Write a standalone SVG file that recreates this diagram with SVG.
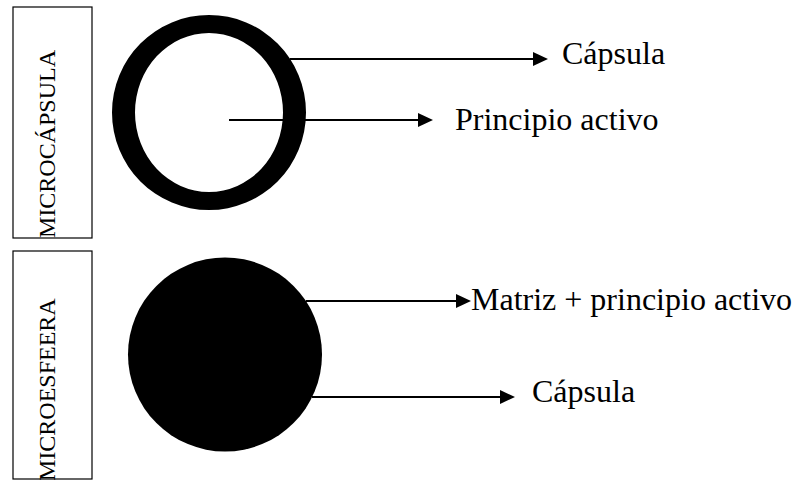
<svg xmlns="http://www.w3.org/2000/svg" width="796" height="480" viewBox="0 0 796 480">
<style>
.box{fill:none;stroke:#000;stroke-width:1.2}
.lbl{font-family:"Liberation Serif","Times New Roman",serif;font-size:32px;fill:#000}
.vlbl{font-family:"Liberation Serif","Times New Roman",serif;font-size:24px;fill:#000}
.conn{stroke:#000;stroke-width:2;fill:none}
</style>
<defs>
<marker id="ah" markerUnits="userSpaceOnUse" markerWidth="16" markerHeight="14" refX="11" refY="7" orient="auto">
<path d="M0,0 L15,7 L0,14 Z" fill="#000"/>
</marker>
<clipPath id="clipBot"><rect x="13" y="251" width="79" height="229"/></clipPath>
</defs>
<rect width="796" height="480" fill="#fff"/>
<g id="box-microcapsula">
<rect class="box" x="13" y="7" width="79" height="231"/>
<text class="vlbl" transform="translate(55,238) rotate(-90)">MICROCÁPSULA</text>
</g>
<g id="box-microesfera">
<rect class="box" x="13" y="251" width="79" height="228"/>
<g clip-path="url(#clipBot)"><text class="vlbl" transform="translate(55,481) rotate(-90)">MICROESFEERA</text></g>
</g>
<g id="ring">
<path fill="#000" fill-rule="evenodd" d="M112,112.5 A97,97.5 0 1 0 306,112.5 A97,97.5 0 1 0 112,112.5 Z M135,112.5 A74,79.5 0 1 0 283,112.5 A74,79.5 0 1 0 135,112.5 Z"/>
</g>
<g id="sphere">
<circle cx="225" cy="354.5" r="97" fill="#000"/>
</g>
<g id="connectors">
<line class="conn" x1="290" y1="59" x2="544" y2="59" marker-end="url(#ah)"/>
<line class="conn" x1="229" y1="120" x2="429" y2="120" marker-end="url(#ah)"/>
<line class="conn" x1="306" y1="301" x2="467" y2="301" marker-end="url(#ah)"/>
<line class="conn" x1="312" y1="397" x2="511" y2="397" marker-end="url(#ah)"/>
</g>
<g id="labels">
<text class="lbl" x="562" y="64">Cápsula</text>
<text class="lbl" x="455" y="130">Principio activo</text>
<text class="lbl" x="471" y="310">Matriz + principio activo</text>
<text class="lbl" x="532" y="402">Cápsula</text>
</g>
</svg>
